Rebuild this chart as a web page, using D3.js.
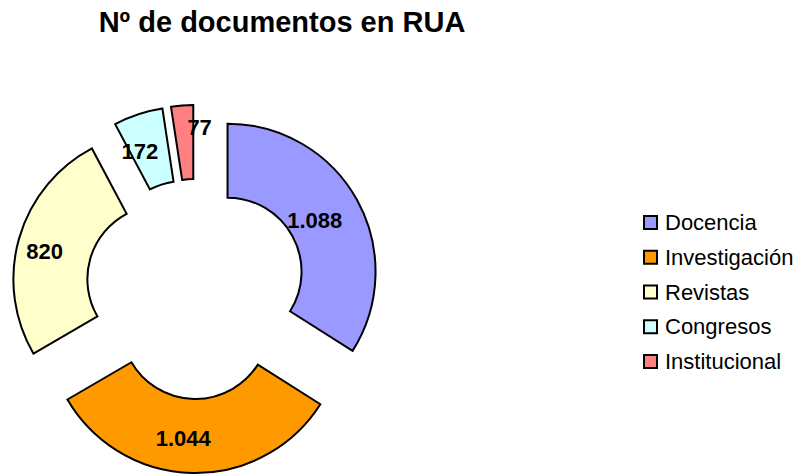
<!DOCTYPE html>
<html>
<head>
<meta charset="utf-8">
<script src="https://cdn.jsdelivr.net/npm/d3@7"></script>
<style>
  body { margin: 0; background: #fff; }
  text { font-family: "Liberation Sans", Arial, sans-serif; }
</style>
</head>
<body>
<div id="chart"></div>
<script>
const categories = ["Docencia", "Investigación", "Revistas", "Congresos", "Institucional"];
const values = [1088, 1044, 820, 172, 77];
const colors = ["#9999FF", "#FF9900", "#FFFFCC", "#CCFFFF", "#FF8080"];
const chartTitle = "Nº de documentos en RUA";

const width = 798, height = 476;
const cx = 196, cy = 289;
const innerR = 74, outerR = 148;
const explode = 36;

const svg = d3.select("#chart")
    .append("svg")
    .attr("width", width)
    .attr("height", height);

svg.append("text")
    .attr("x", 282)
    .attr("y", 32)
    .attr("text-anchor", "middle")
    .style("font-size", "29px")
    .style("font-weight", "bold")
    .text(chartTitle);

const pie = d3.pie().sort(null).value(d => d);
const arcs = pie(values);
const arc = d3.arc().innerRadius(innerR).outerRadius(outerR);

const g = svg.append("g").attr("transform", `translate(${cx},${cy})`);

const slice = g.selectAll(".slice")
    .data(arcs)
    .join("g")
    .attr("class", "slice")
    .attr("transform", d => {
        const mid = (d.startAngle + d.endAngle) / 2;
        return `translate(${explode * Math.sin(mid)},${-explode * Math.cos(mid)})`;
    });

slice.append("path")
    .attr("d", arc)
    .attr("fill", (d, i) => colors[i])
    .attr("stroke", "#000")
    .attr("stroke-width", 2)
    .attr("stroke-linejoin", "miter");

// small slices get their label pushed outward and to the right
slice.append("text")
    .attr("transform", d => {
        const mid = (d.startAngle + d.endAngle) / 2;
        const small = (d.endAngle - d.startAngle) < 0.2;
        const r = small ? 128 : 111;
        const dx = small ? 16 : -10;
        return `translate(${r * Math.sin(mid) + dx},${-r * Math.cos(mid) + 2})`;
    })
    .attr("text-anchor", "middle")
    .attr("dy", "0.36em")
    .style("font-size", "22px")
    .style("font-weight", "bold")
    .text(d => d3.format(",")(d.value).replace(/,/g, "."));

const legend = svg.append("g").attr("transform", "translate(644,0)");
categories.forEach((c, i) => {
    const row = legend.append("g").attr("transform", `translate(0,${222.5 + i * 34.75})`);
    row.append("rect")
        .attr("x", 0).attr("y", -6.5)
        .attr("width", 13).attr("height", 13)
        .attr("fill", colors[i])
        .attr("stroke", "#000")
        .attr("stroke-width", 2);
    row.append("text")
        .attr("x", 21)
        .attr("y", 7.5)
        .style("font-size", "22px")
        .text(c);
});
</script>
</body>
</html>
